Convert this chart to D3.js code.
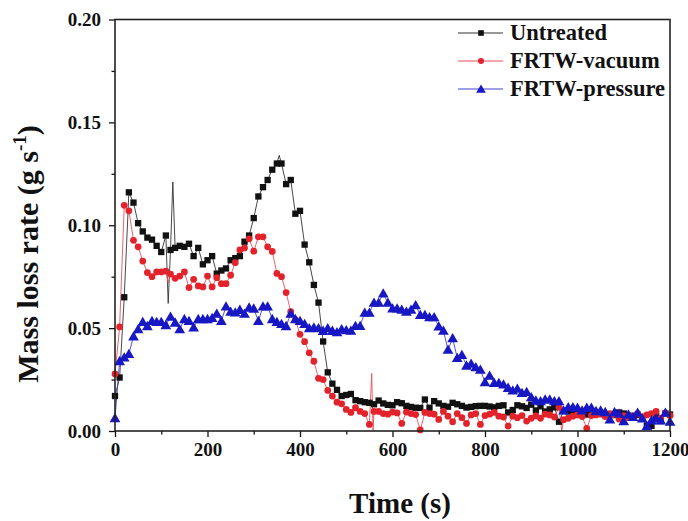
<!DOCTYPE html>
<html>
<head>
<meta charset="utf-8">
<script src="https://cdn.jsdelivr.net/npm/d3@7/dist/d3.min.js"></script>
<style>
  html, body { margin: 0; padding: 0; background: #fff; }
  svg { display: block; }
  text { font-family: "Liberation Serif", "Times New Roman", serif; font-weight: bold; }
</style>
</head>
<body>
<svg id="chart" width="688" height="521"></svg>
<script>
// ---- data ----
const time = [0,10,20,30,40,50,60,70,80,90,100,110,120,130,140,150,160,170,180,190,200,
  210,220,230,240,250,260,270,280,290,300,310,320,330,340,350,360,370,380,390,400,
  410,420,430,440,450,460,470,480,490,500,510,520,530,540,550,560,570,580,590,600,
  610,620,630,640,650,660,670,680,690,700,710,720,730,740,750,760,770,780,790,800,
  810,820,830,840,850,860,870,880,890,900,910,920,930,940,950,960,970,980,990,1000,
  1010,1020,1030,1040,1050,1060,1070,1080,1090,1100,1110,1120,1130,1140,1150,1160,1170,1180,1190,1200];

const untreated = [0.017,0.026,0.065,0.116,0.111,0.101,0.097,0.094,0.093,0.090,0.087,
  0.095,0.088,0.089,0.090,0.0895,0.091,0.085,0.089,0.081,0.083,
  0.085,0.0765,0.078,0.079,0.083,0.084,0.085,0.092,0.095,0.1035,
  0.114,0.1185,0.122,0.127,0.130,0.130,0.120,0.122,0.1056,0.107,
  0.0906,0.082,0.071,0.0624,0.0435,0.0285,0.023,0.020,0.017,0.0175,
  0.018,0.015,0.0145,0.014,0.0137,0.013,0.0148,0.0134,0.0127,0.0125,
  0.014,0.0135,0.0122,0.0117,0.0113,0.0112,0.0153,0.0113,0.0145,0.0134,
  0.0122,0.0118,0.0137,0.013,0.0122,0.0114,0.0117,0.0121,0.0122,0.0122,
  0.0119,0.0115,0.0122,0.0125,0.009,0.0102,0.0125,0.012,0.0112,0.0128,
  0.010,0.012,0.0095,0.0105,0.0115,0.0045,0.0097,0.0095,0.009,0.0095,
  0.0088,0.008,0.009,0.0085,0.0088,0.008,0.0082,0.0078,0.009,0.0085,
  0.0075,0.0073,0.0078,0.0068,0.0025,0.0025,0.0072,0.0048,0.0085,0.008];

const vacuum = [0.0277,0.0506,0.1097,0.107,0.0927,0.0895,0.0826,0.077,0.075,0.0773,0.0773,
  0.0777,0.0763,0.0742,0.0753,0.0773,0.0697,0.0737,0.0705,0.070,0.0753,
  0.070,0.0745,0.0716,0.0716,0.0757,0.0818,0.088,0.089,0.0934,0.0874,
  0.0944,0.0944,0.0895,0.0873,0.0766,0.075,0.0673,0.058,0.054,0.047,
  0.0434,0.038,0.0339,0.0256,0.025,0.0197,0.017,0.014,0.0132,0.0105,
  0.009,0.0113,0.0095,0.0085,0.0032,0.0095,0.0095,0.0085,0.0082,0.0092,
  0.0088,0.0037,0.0092,0.0085,0.008,0.0005,0.009,0.0085,0.0082,0.0056,
  0.0095,0.0072,0.0045,0.0085,0.0065,0.0037,0.0078,0.0085,0.0032,0.0075,
  0.0082,0.009,0.0072,0.0068,0.0024,0.0072,0.0065,0.0075,0.0048,0.0062,
  0.0073,0.0062,0.0082,0.0078,0.0068,0.0115,0.0055,0.0062,0.0072,0.0078,
  0.007,0.0013,0.0075,0.0078,0.0082,0.007,0.0085,0.0078,0.0058,0.0075,
  0.0065,0.0072,0.0085,0.0068,0.0078,0.0085,0.0095,0.0062,0.0088,0.0075];

const pressure = [0.0063,0.034,0.0358,0.0375,0.046,0.0495,0.053,0.051,0.0535,0.053,0.053,
  0.0515,0.0556,0.0527,0.0495,0.0544,0.0535,0.0503,0.0544,0.0544,0.0544,
  0.055,0.057,0.0535,0.0605,0.058,0.0576,0.0589,0.057,0.060,0.0595,
  0.0535,0.0605,0.0605,0.0544,0.053,0.052,0.051,0.057,0.0544,0.0535,
  0.052,0.050,0.0503,0.050,0.0487,0.050,0.0487,0.048,0.0495,0.049,
  0.0488,0.0511,0.0511,0.0575,0.0575,0.0624,0.0624,0.0669,0.0624,0.0596,
  0.0596,0.059,0.058,0.059,0.0612,0.0564,0.0564,0.0553,0.0553,0.0508,
  0.0488,0.0395,0.0451,0.0355,0.037,0.0318,0.0327,0.031,0.0298,0.0237,
  0.0269,0.0234,0.0234,0.0226,0.021,0.0197,0.0206,0.0185,0.019,0.0164,
  0.0148,0.0145,0.0153,0.0153,0.0145,0.0145,0.010,0.0116,0.0116,0.0113,
  0.010,0.0113,0.0113,0.0097,0.010,0.0092,0.0056,0.0092,0.0084,0.0048,
  0.0081,0.0068,0.0089,0.0061,0.0024,0.0052,0.0061,0.0052,0.0089,0.0045];

// line-only excursions between markers [time, value]
const untreatedExtra = [[115,0.062],[125,0.121],[355,0.134]];
const vacuumExtra = [[115,0.072],[555,0.028],[558,0.0],[966,0.0]];
const pressureExtra = [];

const seriesNames = ["Untreated", "FRTW-vacuum", "FRTW-pressure"];
const seriesColors = ["#111111", "#e3232b", "#1717c4"];
const seriesLineColors = ["#333333", "#e8505a", "#4040d0"];
const seriesShapes = [d3.symbolSquare, d3.symbolCircle, d3.symbolTriangle];
const seriesSizes = [40, 36, 50];

const xTicks = [0,200,400,600,800,1000,1200];
const xMinorTicks = [100,300,500,700,900,1100];
const yTicks = [0,0.05,0.10,0.15,0.20];
const yMinorTicks = [0.025,0.075,0.125,0.175];

const xTitle = "Time (s)";

// ---- chart ----
const svg = d3.select("#chart");
const L = 115, R = 670, T = 19.5, B = 431;
const x = d3.scaleLinear().domain([0,1200]).range([L,R]);
const y = d3.scaleLinear().domain([0,0.2]).range([B,T]);

const values = [untreated, vacuum, pressure];
const extras = [untreatedExtra, vacuumExtra, pressureExtra];

const plot = svg.append("g");
const line = d3.line().x(d => x(d[0])).y(d => y(d[1]));

values.forEach((vals, i) => {
  const pts = time.map((t, k) => [t, vals[k]]).concat(extras[i]).sort((a,b) => a[0]-b[0]);
  plot.append("path").datum(pts)
    .attr("d", line)
    .attr("fill", "none")
    .attr("stroke", seriesLineColors[i])
    .attr("stroke-width", 0.9);
});
values.forEach((vals, i) => {
  const sym = d3.symbol().type(seriesShapes[i]).size(seriesSizes[i]);
  plot.append("g").selectAll("path")
    .data(time.map((t, k) => [t, vals[k]]))
    .join("path")
    .attr("d", sym)
    .attr("transform", d => `translate(${x(d[0])},${y(d[1]) + (i===2 ? 1 : 0)})`)
    .attr("fill", seriesColors[i]);
});

// axes
svg.append("g").attr("transform", `translate(0,${B})`)
  .call(d3.axisBottom(x).tickValues(xTicks).tickSize(6).tickPadding(6).tickFormat(d3.format("d")));
svg.append("g").attr("transform", `translate(0,${B})`)
  .call(d3.axisBottom(x).tickValues(xMinorTicks).tickSize(3.5).tickFormat(""));
svg.append("g").attr("transform", `translate(${L},0)`)
  .call(d3.axisLeft(y).tickValues(yTicks).tickSize(6).tickPadding(8).tickFormat(d3.format(".2f")));
svg.append("g").attr("transform", `translate(${L},0)`)
  .call(d3.axisLeft(y).tickValues(yMinorTicks).tickSize(3.5).tickFormat(""));

svg.selectAll(".domain").remove();
svg.selectAll(".tick line").attr("stroke", "#111").attr("stroke-width", 1.3);
svg.selectAll(".tick text").attr("font-size", 19).attr("fill", "#111")
   .attr("font-family", "Liberation Serif").attr("font-weight", "bold");

// frame
svg.append("rect").attr("x", L).attr("y", T).attr("width", R-L).attr("height", B-T)
  .attr("fill", "none").attr("stroke", "#222").attr("stroke-width", 1.6);

// titles
svg.append("text").attr("x", 400).attr("y", 513).attr("text-anchor", "middle")
  .attr("font-size", 29).attr("fill", "#111").text(xTitle);

const yt = svg.append("text").attr("transform", "translate(38,254) rotate(-90)")
  .attr("text-anchor", "middle").attr("font-size", 30).attr("fill", "#111");
yt.append("tspan").text("Mass loss rate (g s");
yt.append("tspan").attr("font-size", 19).attr("dy", -12).text("-1");
yt.append("tspan").attr("dy", 12).text(")");

// legend
const lg = svg.append("g");
const legY = [33, 61, 89];
seriesNames.forEach((name, i) => {
  lg.append("line").attr("x1", 458).attr("x2", 503).attr("y1", legY[i]).attr("y2", legY[i])
    .attr("stroke", seriesLineColors[i]).attr("stroke-width", 1);
  lg.append("path").attr("d", d3.symbol().type(seriesShapes[i]).size(seriesSizes[i] * 0.8))
    .attr("transform", `translate(481,${legY[i] + (i===2 ? 1 : 0)})`).attr("fill", seriesColors[i]);
  lg.append("text").attr("x", 510).attr("y", legY[i] + 7).attr("font-size", 22.5)
    .attr("fill", "#111").text(name);
});
</script>
</body>
</html>
